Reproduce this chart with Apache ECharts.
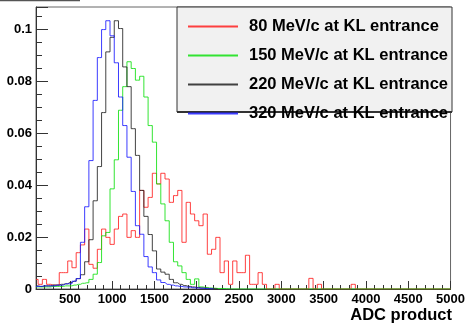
<!DOCTYPE html>
<html><head><meta charset="utf-8">
<script src="https://cdn.jsdelivr.net/npm/echarts@6/dist/echarts.min.js"></script>
<style>html,body{margin:0;padding:0;background:#fff}#c{width:468px;height:324px}</style>
</head><body><div id="c"></div>
<script>
// Histogram bins: centers start at 100, width 50 (ADC product)
const binStart = 100, binWidth = 50;
const seriesNames = ['80 MeV/c at KL entrance','150 MeV/c at KL entrance','220 MeV/c at KL entrance','320 MeV/c at KL entrance'];
const xMajorTicks = [500,1000,1500,2000,2500,3000,3500,4000,4500,5000];
const yTickLabels = [0,0.02,0.04,0.06,0.08,0.1];

const red80 = [0.0037,0.0018,0.0037,0.0018,0.0015,0.0015,0.0063,0.0063,0.0108,0.0082,
 0.014,0.017,0.0231,0.0095,0.008,0.0153,0.0231,0.0199,0.0172,0.0231,
 0.028,0.0289,0.0199,0.0225,0.0199,0.038,0.0315,0.0353,0.0446,0.0405,
 0.0446,0.0424,0.0334,0.036,0.038,0.018,0.0334,0.0289,0.0263,0.0244,
 0.0289,0.0134,0.0153,0.0199,0.0063,0.0108,0.0018,0.0108,0.0063,0.0063,
 0.013,0.0018,0.0018,0.0063,0.0018,0,0,0.0018,0,0,
 0,0,0,0,0,0.0041,0,0.0018,0,0,
 0,0,0,0,0,0.0018,0,0,0,0,
 0,0,0,0,0,0,0,0,0,0,
 0,0,0,0,0,0,0,0,0];
const green150 = [0.0008,0.0008,0.0008,0.0008,0.001,0.001,0.001,0.0012,0.0012,0.0015,
 0.0018,0.0022,0.0024,0.0037,0.0057,0.0102,0.0205,0.0218,0.0386,0.0498,
 0.0689,0.078,0.0876,0.085,0.0805,0.082,0.074,0.063,0.0566,0.0405,
 0.0328,0.0263,0.018,0.0105,0.0089,0.0063,0.0037,0.0018,0.0039,0.0008,
 0.0006,0.0004,0.0003,0.0002,0.0002,0.0001,0,0,0,0,
 0,0,0,0,0,0,0,0,0,0,
 0,0,0,0,0,0,0,0,0,0,
 0,0,0,0,0,0,0,0,0,0,
 0,0,0,0,0,0,0,0,0,0,
 0,0,0,0,0,0,0,0,0];
const black220 = [0.0012,0.001,0.0012,0.0012,0.0015,0.0015,0.0018,0.002,0.0025,0.003,
 0.004,0.0055,0.0105,0.019,0.034,0.0472,0.068,0.0914,0.097,0.1034,
 0.1004,0.0856,0.078,0.0618,0.0515,0.038,0.028,0.021,0.0147,0.0077,
 0.0065,0.0057,0.0037,0.0024,0.0018,0.0013,0.001,0.0008,0.0006,0.0004,
 0.0003,0.0002,0.0001,0];
const blue320 = [0.001,0.001,0.0012,0.0012,0.0012,0.0015,0.0015,0.002,0.002,0.003,
 0.004,0.018,0.0317,0.0495,0.0727,0.0892,0.100,0.1034,0.0976,0.0872,
 0.074,0.063,0.0508,0.0376,0.0244,0.0211,0.0125,0.0085,0.0063,0.0035,
 0.0025,0.0018,0.0015,0.0012,0.001,0.0008,0.0007,0.0005,0.0004,0.0003,
 0.0002,0.0001,0];

const colors = ['#ff2020','#10e010','#222222','#1a1aff'];
const dataSets = [red80, green150, black220, blue320];
function toPoints(arr){ return arr.map((v,i)=>[binStart + i*binWidth, v]); }

const FONT = 'Liberation Sans, Arial, Helvetica, sans-serif';
const chart = echarts.init(document.getElementById('c'), null, {renderer:'canvas'});
chart.setOption({
  animation:false,
  backgroundColor:'#fff',
  grid:{left:36,right:16,top:7,bottom:35,show:true,borderColor:'#666',borderWidth:1,backgroundColor:'transparent'},
  title:{text:'ADC product',right:16,top:307,padding:0,textStyle:{fontSize:16.5,fontWeight:'bold',fontFamily:FONT,color:'#000'}},
  xAxis:[{
    type:'value',min:100,max:5000,position:'bottom',
    axisLine:{show:true,lineStyle:{color:'#333',width:1}},
    axisTick:{show:true,inside:true,length:8,customValues:xMajorTicks,lineStyle:{color:'#333'}},
    axisLabel:{show:true,customValues:xMajorTicks,margin:4,fontSize:13,fontWeight:'bold',fontFamily:FONT,color:'#000',
      formatter:function(v){ return String(Math.round(v)); }},
    splitLine:{show:false}
  },{
    type:'value',min:100,max:5000,interval:100,position:'bottom',
    axisLine:{show:false},
    axisTick:{show:true,inside:true,length:4,lineStyle:{color:'#333'}},
    axisLabel:{show:false},splitLine:{show:false}
  }],
  yAxis:[{
    type:'value',min:0,max:0.1087,interval:0.02,position:'left',
    axisLine:{show:true,lineStyle:{color:'#333',width:1}},
    axisTick:{show:true,inside:true,length:12,lineStyle:{color:'#333'}},
    axisLabel:{margin:4,fontSize:13,fontWeight:'bold',fontFamily:FONT,color:'#000',
      formatter:function(v){ for(const t of yTickLabels){ if(Math.abs(v-t)<1e-9) return String(t);} return ''; }},
    splitLine:{show:false}
  },{
    type:'value',min:0,max:0.1087,interval:0.005,position:'left',
    axisLine:{show:false},
    axisTick:{show:true,inside:true,length:6,lineStyle:{color:'#333'}},
    axisLabel:{show:false},splitLine:{show:false}
  }],
  legend:{
    left:187,top:18,padding:0,orient:'vertical',itemWidth:50,itemHeight:14,itemGap:12,
    data:seriesNames,
    itemStyle:{color:'transparent',borderColor:'transparent',borderWidth:0,opacity:0},
    textStyle:{fontSize:16.5,fontWeight:'bold',fontFamily:FONT,color:'#000',padding:[0,0,0,6]},
    z:20
  },
  graphic:[
    {type:'rect',z:10,shape:{x:177,y:7,width:275,height:105},style:{fill:'#f1f1f1',stroke:'#333',lineWidth:1}},
    {type:'line',z:11,shape:{x1:177,y1:112,x2:452,y2:112},style:{stroke:'#333',lineWidth:2}},
    {type:'line',z:11,shape:{x1:0,y1:0.5,x2:80,y2:0.5},style:{stroke:'#555',lineWidth:1.5}}
  ],
  series: dataSets.map((d,i)=>({
    name:seriesNames[i],type:'line',step:'middle',data:toPoints(d),
    xAxisIndex:0,yAxisIndex:0,symbol:'none',showSymbol:false,clip:true,
    lineStyle:{color:colors[i],width:1,opacity:0.85},itemStyle:{color:colors[i]},
    z:2+i
  }))
});
</script></body></html>
